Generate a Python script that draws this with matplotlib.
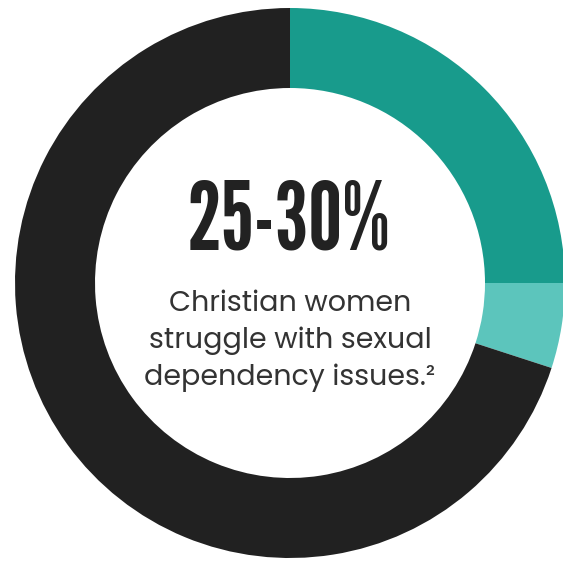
import matplotlib
matplotlib.use("Agg")
import matplotlib.pyplot as plt

# donut shares (percent)
labels = ["struggle", "upper range", "rest"]
shares = [25, 5, 70]
colors = ["#189b8c", "#5cc5bc", "#212121"]

headline = "25-30%"
caption = ["Christian women", "struggle with sexual", "dependency issues.\u00b2"]

fig = plt.figure(figsize=(5.63, 5.65), dpi=100)
ax = fig.add_axes([0, 0, 1, 1])

ax.pie(shares, colors=colors, startangle=90, counterclock=False,
       radius=275, center=(290, 282),
       wedgeprops=dict(width=80, linewidth=0))

ax.set_xlim(0, 563)
ax.set_ylim(0, 565)
ax.set_aspect('equal')
ax.axis('off')

# big number, condensed heavy face
ax.text(289, 341, headline, ha='center', va='center', fontsize=69,
        family=['League Gothic', 'Anton', 'DejaVu Sans'],
        color='#222222')

ys = [261, 224, 187]
for y, line in zip(ys, caption):
    ax.text(290, y, line, ha='center', va='center', fontsize=20.5,
            family=['Poppins', 'Montserrat Alternates', 'DejaVu Sans'],
            color='#333333')

fig.savefig("out.png", dpi=100)
